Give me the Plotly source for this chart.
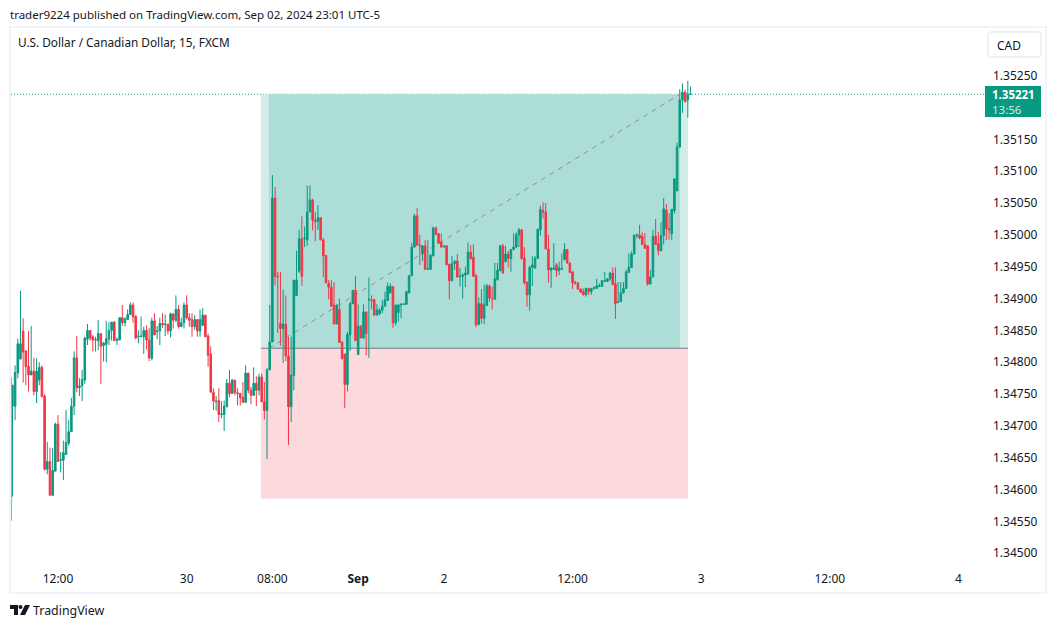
import plotly.graph_objects as go

opens = [1.34589,
1.34764,1.34731,1.34783,1.34805,1.34849,1.34818,1.34794,1.34780,1.34786,1.34754,
1.34772,1.34792,1.34747,1.34632,1.34644,1.34591,1.34629,1.34703,1.34646,1.34646,
1.34655,1.34673,1.34691,1.34731,1.34807,1.34760,1.34763,1.34772,1.34836,1.34850,
1.34840,1.34836,1.34834,1.34845,1.34826,1.34828,1.34836,1.34850,1.34863,1.34834,
1.34835,1.34870,1.34862,1.34867,1.34875,1.34890,1.34872,1.34840,1.34840,1.34840,
1.34850,1.34835,1.34806,1.34865,1.34848,1.34849,1.34861,1.34859,1.34860,1.34849,
1.34876,1.34866,1.34883,1.34856,1.34862,1.34890,1.34870,1.34867,1.34856,1.34867,
1.34849,1.34858,1.34874,1.34841,1.34813,1.34753,1.34738,1.34740,1.34718,1.34718,
1.34730,1.34767,1.34751,1.34772,1.34752,1.34751,1.34745,1.34737,1.34783,1.34756,
1.34748,1.34767,1.34756,1.34777,1.34738,1.34724,
1.34788,1.34832,1.35058,1.34935,1.34861,1.34853,1.34860,1.34810,1.34730,1.34779,
1.34905,1.34943,1.34994,1.34994,1.34992,1.35036,1.35055,1.35023,1.35021,1.35027,
1.34992,1.34968,1.34924,1.34918,1.34890,1.34860,1.34883,1.34832,1.34813,1.34765,
1.34843,1.34892,1.34913,1.34812,1.34857,1.34838,1.34879,1.34898,1.34898,1.34898,
1.34874,1.34876,1.34882,1.34888,1.34897,1.34909,1.34919,1.34862,1.34878,1.34890,
1.34891,1.34891,1.34909,1.34936,1.34981,1.35030,1.34984,1.34970,1.34983,1.34946,
1.34946,1.34967,1.35011,1.35002,1.34989,1.34981,1.34983,1.34954,1.34928,1.34955,
1.34959,1.34934,1.34935,1.34937,1.34939,1.34973,
1.34965,1.34936,1.34859,1.34892,1.34869,1.34889,1.34920,1.34901,1.34899,1.34930,
1.34944,1.34983,1.34958,1.34970,1.34963,1.34977,1.34981,1.35000,1.35008,1.34964,
1.34926,1.34906,1.34949,1.34948,1.34963,1.35008,1.35038,1.35036,1.34978,1.34945,
1.34946,1.34953,1.34944,1.34946,1.34961,1.34977,1.34956,1.34942,1.34925,1.34925,
1.34915,1.34911,1.34906,1.34916,1.34911,1.34916,1.34916,1.34919,1.34919,1.34927,
1.34927,1.34931,1.34940,1.34923,1.34894,1.34895,1.34909,1.34916,1.34941,1.34949,
1.34970,1.34999,1.35000,1.34998,1.34985,1.34983,1.34923,1.34934,1.34998,1.34986,
1.34975,1.34999,1.35039,1.35010,1.35002,
1.35038,1.35069,1.35138,1.35212,1.35224,1.35212,1.35221]

highs = [1.34776,
1.34764,1.34795,1.34837,1.34912,1.34869,1.34818,1.34849,1.34857,1.34807,1.34806,
1.34800,1.34795,1.34750,1.34675,1.34666,1.34665,1.34705,1.34717,1.34659,1.34677,
1.34725,1.34709,1.34744,1.34817,1.34841,1.34775,1.34788,1.34840,1.34860,1.34850,
1.34843,1.34840,1.34866,1.34845,1.34832,1.34865,1.34863,1.34863,1.34865,1.34839,
1.34871,1.34890,1.34871,1.34883,1.34894,1.34894,1.34874,1.34850,1.34872,1.34856,
1.34858,1.34854,1.34870,1.34877,1.34857,1.34870,1.34877,1.34875,1.34860,1.34878,
1.34876,1.34905,1.34890,1.34870,1.34894,1.34905,1.34877,1.34877,1.34874,1.34867,
1.34883,1.34885,1.34874,1.34845,1.34825,1.34759,1.34747,1.34759,1.34739,1.34740,
1.34774,1.34788,1.34774,1.34772,1.34759,1.34752,1.34769,1.34795,1.34783,1.34761,
1.34792,1.34778,1.34782,1.34782,1.34769,1.34791,
1.34890,1.35094,1.35075,1.34942,1.34942,1.34914,1.34905,1.34840,1.34840,1.34929,
1.34975,1.35008,1.35029,1.35013,1.35077,1.35078,1.35057,1.35036,1.35047,1.35027,
1.34995,1.34968,1.34929,1.34929,1.34926,1.34890,1.34900,1.34832,1.34813,1.34848,
1.34895,1.34913,1.34935,1.34891,1.34857,1.34891,1.34879,1.34933,1.34905,1.34900,
1.34891,1.34885,1.34898,1.34911,1.34925,1.34924,1.34919,1.34890,1.34892,1.34893,
1.34893,1.34911,1.34936,1.34988,1.35033,1.35042,1.35000,1.34984,1.34992,1.34992,
1.34970,1.35013,1.35013,1.35002,1.35002,1.34984,1.34984,1.34954,1.34967,1.34961,
1.34970,1.34948,1.34940,1.34950,1.34988,1.34984,
1.34985,1.34939,1.34902,1.34915,1.34922,1.34923,1.34922,1.34919,1.34956,1.34956,
1.34983,1.34986,1.34983,1.34975,1.34978,1.35003,1.35004,1.35011,1.35008,1.34981,
1.34926,1.34952,1.34967,1.34967,1.35009,1.35046,1.35051,1.35050,1.35000,1.34949,
1.34987,1.34956,1.34958,1.34971,1.34987,1.34977,1.34956,1.34942,1.34928,1.34925,
1.34916,1.34916,1.34917,1.34916,1.34917,1.34919,1.34931,1.34924,1.34929,1.34942,
1.34932,1.34942,1.34949,1.34949,1.34926,1.34926,1.34926,1.34945,1.34971,1.34974,
1.35000,1.35002,1.35016,1.35004,1.35003,1.34983,1.34945,1.35008,1.35025,1.35005,
1.35020,1.35058,1.35049,1.35034,1.35041,
1.35089,1.35145,1.35229,1.35238,1.35228,1.35242,1.35233]

lows = [1.34551,
1.34703,1.34709,1.34775,1.34805,1.34768,1.34764,1.34754,1.34780,1.34748,1.34736,
1.34764,1.34745,1.34630,1.34624,1.34591,1.34591,1.34629,1.34644,1.34627,1.34615,
1.34655,1.34669,1.34691,1.34717,1.34753,1.34747,1.34739,1.34766,1.34827,1.34834,
1.34817,1.34817,1.34819,1.34766,1.34801,1.34800,1.34827,1.34834,1.34834,1.34827,
1.34835,1.34857,1.34856,1.34867,1.34875,1.34862,1.34836,1.34830,1.34840,1.34813,
1.34820,1.34802,1.34803,1.34843,1.34836,1.34827,1.34854,1.34841,1.34844,1.34839,
1.34853,1.34863,1.34853,1.34855,1.34853,1.34867,1.34856,1.34840,1.34851,1.34840,
1.34840,1.34857,1.34840,1.34793,1.34753,1.34725,1.34724,1.34706,1.34712,1.34692,
1.34730,1.34745,1.34751,1.34748,1.34732,1.34732,1.34736,1.34736,1.34751,1.34734,
1.34748,1.34731,1.34748,1.34738,1.34710,1.34648,
1.34788,1.34832,1.34921,1.34846,1.34826,1.34799,1.34802,1.34670,1.34706,1.34756,
1.34905,1.34940,1.34920,1.34981,1.34983,1.35036,1.35007,1.34990,1.35008,1.34992,
1.34934,1.34924,1.34899,1.34887,1.34860,1.34860,1.34831,1.34804,1.34728,1.34754,
1.34818,1.34892,1.34834,1.34812,1.34838,1.34838,1.34811,1.34807,1.34883,1.34873,
1.34874,1.34874,1.34877,1.34888,1.34897,1.34908,1.34854,1.34858,1.34864,1.34869,
1.34890,1.34890,1.34908,1.34936,1.34980,1.34983,1.34953,1.34959,1.34945,1.34945,
1.34945,1.34967,1.35000,1.34986,1.34980,1.34980,1.34953,1.34899,1.34928,1.34945,
1.34933,1.34919,1.34900,1.34918,1.34937,1.34961,
1.34934,1.34855,1.34859,1.34861,1.34860,1.34889,1.34895,1.34883,1.34898,1.34928,
1.34943,1.34939,1.34957,1.34949,1.34942,1.34976,1.34979,1.34981,1.34961,1.34922,
1.34887,1.34881,1.34920,1.34947,1.34963,1.34999,1.35026,1.34978,1.34925,1.34917,
1.34945,1.34934,1.34937,1.34945,1.34961,1.34955,1.34940,1.34915,1.34922,1.34914,
1.34909,1.34905,1.34903,1.34906,1.34906,1.34914,1.34915,1.34918,1.34919,1.34927,
1.34927,1.34928,1.34922,1.34868,1.34893,1.34895,1.34908,1.34916,1.34940,1.34949,
1.34970,1.34995,1.34993,1.34985,1.34978,1.34920,1.34922,1.34934,1.34985,1.34968,
1.34975,1.34985,1.34992,1.34993,1.34992,
1.35034,1.35069,1.35137,1.35192,1.35209,1.35184,1.35221]

closes = [1.34764,
1.34731,1.34784,1.34829,1.34829,1.34816,1.34793,1.34780,1.34786,1.34754,1.34786,
1.34792,1.34746,1.34632,1.34644,1.34591,1.34630,1.34703,1.34644,1.34647,1.34658,
1.34674,1.34691,1.34731,1.34807,1.34760,1.34763,1.34773,1.34838,1.34850,1.34838,
1.34835,1.34835,1.34845,1.34825,1.34830,1.34837,1.34850,1.34863,1.34834,1.34836,
1.34870,1.34862,1.34868,1.34875,1.34890,1.34871,1.34838,1.34841,1.34841,1.34850,
1.34835,1.34807,1.34865,1.34843,1.34849,1.34861,1.34859,1.34860,1.34849,1.34876,
1.34866,1.34883,1.34856,1.34862,1.34890,1.34870,1.34866,1.34856,1.34867,1.34849,
1.34867,1.34874,1.34840,1.34811,1.34753,1.34739,1.34739,1.34718,1.34719,1.34731,
1.34767,1.34751,1.34772,1.34752,1.34751,1.34744,1.34737,1.34783,1.34756,1.34748,
1.34767,1.34756,1.34777,1.34738,1.34724,1.34788,
1.34832,1.35058,1.34935,1.34934,1.34853,1.34860,1.34810,1.34730,1.34780,1.34929,
1.34929,1.34994,1.34935,1.34995,1.35036,1.35055,1.35023,1.35021,1.35027,1.34992,
1.34967,1.34925,1.34918,1.34888,1.34860,1.34890,1.34831,1.34806,1.34765,1.34844,
1.34892,1.34913,1.34834,1.34857,1.34838,1.34879,1.34845,1.34899,1.34897,1.34874,
1.34882,1.34882,1.34888,1.34898,1.34919,1.34919,1.34862,1.34890,1.34890,1.34891,
1.34891,1.34911,1.34936,1.34981,1.35030,1.34984,1.34983,1.34983,1.34946,1.34947,
1.34968,1.35011,1.35001,1.34987,1.34981,1.34982,1.34953,1.34928,1.34955,1.34958,
1.34934,1.34935,1.34937,1.34940,1.34973,1.34963,
1.34935,1.34859,1.34892,1.34869,1.34890,1.34920,1.34901,1.34900,1.34931,1.34945,
1.34983,1.34940,1.34970,1.34963,1.34977,1.34981,1.35000,1.35008,1.34963,1.34925,
1.34906,1.34949,1.34953,1.34963,1.35009,1.35040,1.35036,1.34978,1.34945,1.34948,
1.34948,1.34944,1.34948,1.34947,1.34977,1.34956,1.34941,1.34925,1.34924,1.34915,
1.34910,1.34906,1.34916,1.34911,1.34916,1.34917,1.34920,1.34920,1.34928,1.34928,
1.34931,1.34940,1.34922,1.34892,1.34895,1.34909,1.34916,1.34942,1.34949,1.34970,
1.35000,1.35000,1.34995,1.34985,1.34979,1.34923,1.34934,1.34998,1.34985,1.34975,
1.34999,1.35041,1.35010,1.35008,1.35040,
1.35088,1.35138,1.35212,1.35224,1.35209,1.35221,1.35221]

bar_index = list(range(len(opens) - 1))
clipped_bar_x = -0.32

price_ticks = [1.345, 1.3455, 1.346, 1.3465, 1.347, 1.3475, 1.348, 1.3485, 1.349,
               1.3495, 1.35, 1.3505, 1.351, 1.3515, 1.3525]
price_labels = ["1.34500", "1.34550", "1.34600", "1.34650", "1.34700", "1.34750", "1.34800",
                "1.34850", "1.34900", "1.34950", "1.35000", "1.35050", "1.35100", "1.35150", "1.35250"]
time_ticks = [17, 65, 97, 129, 161, 209, 257, 305, 353]
time_labels = ["12:00", "30", "08:00", "<b>Sep</b>", "2", "12:00", "3", "12:00", "4"]

last_price = 1.35221
entry_price = 1.34822
stop_price = 1.34586
zone_outer = (92.7, 252.1)
zone_inner = (95.7, 249.1)

W, H = 1056, 628
L, R, T, B = 11, 985, 28, 566
GREEN, RED = "#089981", "#F23645"
FONT = "Noto Sans"

def px(x): return (x - L) / (R - L)
def py(y): return 1 - (y - T) / (B - T)

def rect(x0, y0, x1, y1, **kw):
    return dict(type="rect", xref="paper", yref="paper", x0=px(x0), x1=px(x1), y0=py(y0), y1=py(y1), **kw)

def data_rect(xs, y0, y1, color):
    return dict(type="rect", xref="x", yref="y", x0=xs[0], x1=xs[1], y0=y0, y1=y1,
                fillcolor=color, line_width=0, layer="below")

def path(points, color):
    d = "M" + " L".join(f"{px(a):.5f},{py(b):.5f}" for a, b in points) + " Z"
    return dict(type="path", xref="paper", yref="paper", path=d, fillcolor=color, line_width=0)

def pill(x0, y0, x1, y1, r):
    P = lambda a, b: f"{px(a):.5f},{py(b):.5f}"
    d = (f"M{P(x0 + r, y0)} L{P(x1 - r, y0)} Q{P(x1, y0)} {P(x1, y0 + r)} L{P(x1, y1 - r)} "
         f"Q{P(x1, y1)} {P(x1 - r, y1)} L{P(x0 + r, y1)} Q{P(x0, y1)} {P(x0, y1 - r)} "
         f"L{P(x0, y0 + r)} Q{P(x0, y0)} {P(x0 + r, y0)} Z")
    return dict(type="path", xref="paper", yref="paper", path=d, fillcolor="white",
                line=dict(color="#EDF0F6", width=2))

shapes = [
    rect(10, 27, 1046, 593, line=dict(color="#F0F3FA", width=2), fillcolor="rgba(0,0,0,0)", layer="below"),
    data_rect(zone_outer, entry_price, last_price, "#D2ECE8"),
    data_rect(zone_outer, stop_price, entry_price, "#FCD9DC"),
    data_rect(zone_inner, entry_price, last_price, "#ACDDD6"),
    dict(type="line", xref="x", yref="y", x0=zone_outer[0], x1=zone_outer[1], y0=entry_price, y1=entry_price,
         line=dict(color="#787B86", width=1), layer="below"),
    dict(type="line", xref="x", yref="y", x0=zone_inner[0], x1=zone_inner[1], y0=entry_price, y1=last_price,
         line=dict(color="#8C909A", width=1, dash="5px,5px"), layer="below"),
    dict(type="line", xref="paper", yref="y", x0=0, x1=1, y0=last_price, y1=last_price,
         line=dict(color=GREEN, width=1, dash="1px,2px"), layer="below"),
    rect(985, 86, 1041, 117, fillcolor=GREEN, line_width=0),
    pill(988, 32, 1041, 57, 4),
    path([(10, 605), (18, 605), (18, 615), (14, 615), (14, 609), (10, 609)], "#131722"),
    path([(25, 605), (30, 605), (25, 615), (20, 615)], "#131722"),
    dict(type="circle", xref="paper", yref="paper", x0=px(18.5), x1=px(22.5), y0=py(605), y1=py(609),
         fillcolor="#131722", line_width=0),
]

def text(x, y, s, size=12, color="#131722"):
    return dict(xref="paper", yref="paper", x=px(x), y=py(y), text=s, showarrow=False, xanchor="left",
                yanchor="middle", align="left", font=dict(family=FONT, size=size, color=color))

annotations = [
    text(8, 14, "trader9224 published on TradingView.com, Sep 02, 2024 23:01 UTC-5", 11.5),
    text(16, 42, "U.S. Dollar / Canadian Dollar, 15, FXCM", 11.8),
    text(995, 45, "CAD", 12),
    text(990, 94, "<b>1.35221</b>", 11.5, "#FFFFFF"),
    text(990, 109.5, "13:56", 11.5, "#CDEBE6"),
    text(31, 610, "TradingView", 12.4),
]

fig = go.Figure()
fig.add_trace(go.Scatter(x=[clipped_bar_x, clipped_bar_x], y=[lows[0], highs[0]], mode="lines",
                         line=dict(color="#6CC5B4", width=1), showlegend=False, hoverinfo="skip"))
fig.add_trace(go.Scatter(x=[clipped_bar_x + 0.35, clipped_bar_x + 0.35], y=[opens[0], closes[0]], mode="lines",
                         line=dict(color=GREEN, width=1), showlegend=False, hoverinfo="skip"))
fig.add_trace(go.Candlestick(
    x=bar_index, open=opens[1:], high=highs[1:], low=lows[1:], close=closes[1:],
    increasing=dict(line=dict(color=GREEN, width=1), fillcolor=GREEN),
    decreasing=dict(line=dict(color=RED, width=1), fillcolor=RED),
    whiskerwidth=0, showlegend=False,
))

fig.update_layout(
    width=W, height=H, autosize=False,
    margin=dict(l=L, r=W - R, t=T, b=H - B, pad=0),
    paper_bgcolor="white", plot_bgcolor="white",
    font=dict(family=FONT, size=12, color="#131722"),
    boxgap=0.18,
    shapes=shapes, annotations=annotations,
    xaxis=dict(range=[(11 - 12.44) / 2.68, (985 - 12.44) / 2.68], rangeslider_visible=False,
               tickmode="array", tickvals=time_ticks, ticktext=time_labels,
               showgrid=False, zeroline=False, showline=False, ticks="", ticklabelstandoff=4,
               tickfont=dict(family=FONT, size=12, color="#131722")),
    yaxis=dict(range=[1.34480, 1.35325], side="right",
               tickmode="array", tickvals=price_ticks, ticktext=price_labels,
               showgrid=False, zeroline=False, showline=False, ticks="", ticklabelstandoff=7,
               tickfont=dict(family=FONT, size=12, color="#131722")),
)

fig.write_html("out.html", post_script="document.body.style.margin='0';document.body.style.overflow='hidden';",
               config=dict(displayModeBar=False))
